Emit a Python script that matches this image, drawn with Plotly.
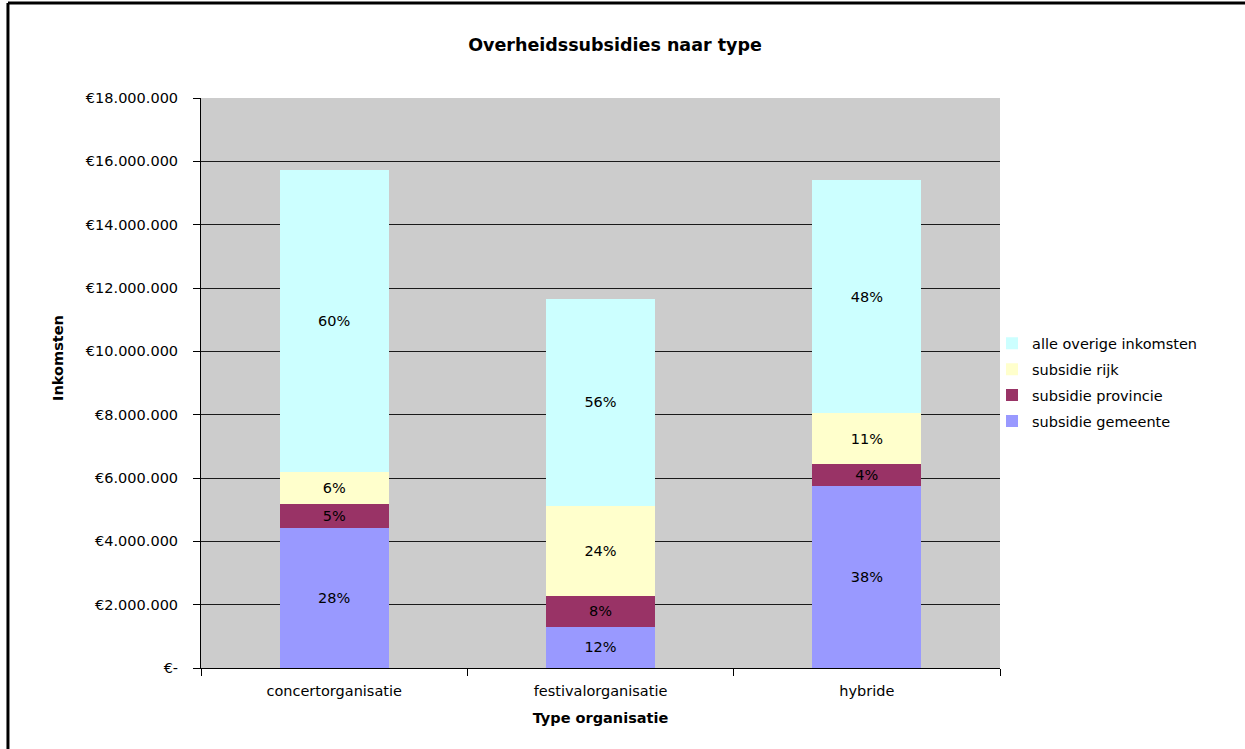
import plotly.graph_objects as go

FONT = "DejaVu Sans"

categories = ["concertorganisatie", "festivalorganisatie", "hybride"]

# amounts in euro per funding source
gemeente = [4420000, 1300000, 5750000]
provincie = [760000, 970000, 690000]
rijk = [1000000, 2850000, 1610000]
overige = [9550000, 6530000, 7360000]

# percentage labels shown inside the bars
pct_gemeente = ["28%", "12%", "38%"]
pct_provincie = ["5%", "8%", "4%"]
pct_rijk = ["6%", "24%", "11%"]
pct_overige = ["60%", "56%", "48%"]

y_ticks = [0, 2000000, 4000000, 6000000, 8000000, 10000000, 12000000, 14000000, 16000000, 18000000]
y_ticktext = ["€-", "€2.000.000", "€4.000.000", "€6.000.000", "€8.000.000", "€10.000.000",
              "€12.000.000", "€14.000.000", "€16.000.000", "€18.000.000"]

series = [
    ("subsidie gemeente", gemeente, pct_gemeente, "#9999FF"),
    ("subsidie provincie", provincie, pct_provincie, "#993366"),
    ("subsidie rijk", rijk, pct_rijk, "#FFFFCC"),
    ("alle overige inkomsten", overige, pct_overige, "#CCFFFF"),
]

fig = go.Figure()
for i, (name, vals, pct, col) in enumerate(series):
    fig.add_trace(go.Bar(
        name=name, x=categories, y=vals, text=pct,
        legendgroup=name, legendrank=100 - i,  # top of the stack first in the legend
        marker=dict(color=col, line=dict(width=0)),
        textposition="inside", insidetextanchor="middle",
        textfont=dict(family=FONT, size=14.5, color="black"),
        hoverinfo="x+y+name",
    ))

fig.update_layout(
    barmode="stack",
    bargap=0.59,
    width=1245, height=749,
    margin=dict(l=201, r=245, t=98, b=81),
    paper_bgcolor="white",
    plot_bgcolor="#CCCCCC",
    font=dict(family=FONT, size=14, color="black"),
    title=dict(
        text="<b>Overheidssubsidies naar type</b>",
        font=dict(family=FONT, size=17.5, color="black"),
        x=0.494, xanchor="center", y=0.94, yanchor="middle",
    ),
    legend=dict(
        traceorder="grouped",
        x=0.99, xanchor="left", y=0.501, yanchor="middle",
        font=dict(family=FONT, size=14.5, color="black"),
        itemwidth=30, tracegroupgap=4,
        bgcolor="rgba(0,0,0,0)",
    ),
    uniformtext=dict(minsize=14.5, mode="show"),
)

fig.update_yaxes(
    range=[0, 18000000],
    tickvals=y_ticks, ticktext=y_ticktext,
    showgrid=True, gridcolor="#1a1a1a", gridwidth=1,
    showline=True, linecolor="black", linewidth=1,
    ticks="outside", ticklen=7, tickcolor="black",
    ticklabelstandoff=12,
    tickfont=dict(family=FONT, size=14.5, color="black"),
    zeroline=False,
)
fig.update_xaxes(
    showline=True, linecolor="black", linewidth=1,
    ticks="outside", ticklen=7, tickcolor="black", tickson="boundaries",
    ticklabelstandoff=10,
    tickfont=dict(family=FONT, size=14.5, color="black"),
    title=dict(text="<b>Type organisatie</b>", font=dict(family=FONT, size=14.5, color="black"), standoff=14),
)

# y axis title sits a bit above the axis centre in the original
fig.add_annotation(
    text="<b>Inkomsten</b>", textangle=-90,
    xref="paper", yref="paper", x=-0.179, y=0.544,
    xanchor="center", yanchor="middle", showarrow=False,
    font=dict(family=FONT, size=14.5, color="black"),
)

# black frame visible on the left and top edges
fig.add_shape(type="line", xref="paper", yref="paper",
              x0=-0.2416, x1=-0.2416, y0=-0.16, y1=1.1667,
              line=dict(color="black", width=3))
fig.add_shape(type="line", xref="paper", yref="paper",
              x0=-0.2416, x1=1.32, y0=1.1667, y1=1.1667,
              line=dict(color="black", width=3))

fig.write_html("out.html", config={"displayModeBar": False},
               post_script="document.body.style.margin='0';")
